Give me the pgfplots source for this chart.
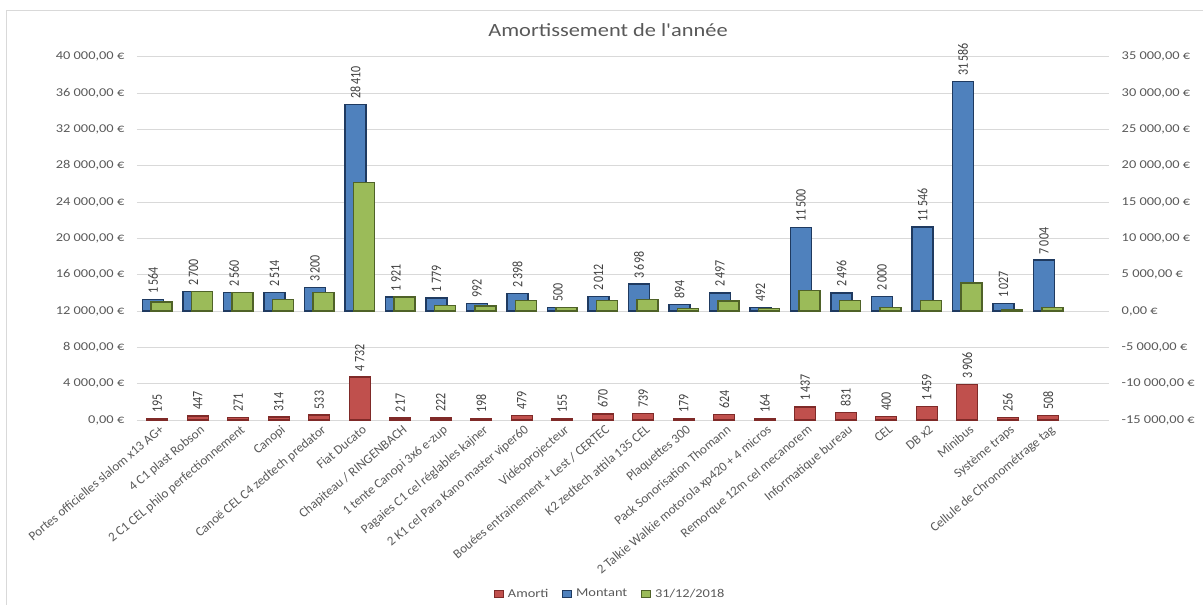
\documentclass[border=0pt]{standalone}
\usepackage{fontspec}
\setmainfont{Carlito}
\newfontfamily\wide{Carlito}[FakeStretch=1.2]
\usepackage{pgfplots}
\usepackage{pgfplotstable}
\pgfplotsset{compat=1.18}
\definecolor{amR}{HTML}{C0504D}
\definecolor{amRd}{HTML}{7F2A28}
\definecolor{mtB}{HTML}{4F81BD}
\definecolor{mtBd}{HTML}{1F3A60}
\definecolor{fnG}{HTML}{9BBB59}
\definecolor{fnGd}{HTML}{4F6228}
\definecolor{gridc}{HTML}{D9D9D9}
\definecolor{txt}{HTML}{595959}
\definecolor{lbl}{HTML}{404040}

\pgfplotstableread{
x amorti montant fin
0 195 1564 1240
1 447 2700 2700
2 271 2560 2560
3 314 2514 1600
4 533 3200 2520
5 4732 28410 17680
6 217 1921 1921
7 222 1779 800
8 198 992 690
9 479 2398 1470
10 155 500 500
11 670 2012 1470
12 739 3698 1600
13 179 894 350
14 624 2497 1380
15 164 492 300
16 1437 11500 2840
17 831 2496 1470
18 400 2000 450
19 1459 11546 1470
20 3906 31586 3850
21 256 1027 200
22 508 7004 500
}\data

\pgfplotsset{
  common/.style={
    at={(102.75pt,138pt)}, anchor=south west,
    scale only axis, width=729pt, height=272.5pt,
    xmin=-0.5, xmax=23.5,
    ybar, bar width=0.52,
    /pgf/number format/assume math mode=true,
    axis line style={draw=none},
    major tick length=0pt,
    tick label style={font=\wide\fontsize{9}{10}\selectfont, text=txt},
    scaled y ticks=false,
    clip=false,
  },
  lab/.style={
    nodes near coords={\pgfmathprintnumber[fixed,precision=0,1000 sep={\,}]{\pgfplotspointmeta}},
    every node near coord/.append style={xscale=1.2, rotate=90, anchor=west, inner xsep=4pt,
      font=\fontsize{9}{10}\selectfont, text=lbl},
  },
}

\begin{document}
\begin{tikzpicture}
\useasboundingbox (0,0) rectangle (902.25pt,453pt);
\draw[gridc, line width=0.75pt] (5pt,-10pt) rectangle (912pt,445pt);
\begin{axis}[common,
  ymin=0, ymax=40000, ytick={0,4000,...,40000},
  ymajorgrids, grid style={gridc, line width=0.75pt},
  yticklabel={\pgfmathprintnumber[fixed,fixed zerofill,precision=2,use comma,1000 sep={\ }]{\tick}\ €},
  yticklabel style={anchor=east, xshift=-6pt},
  xtick={0,...,22},
  xticklabels={{Portes officielles slalom x13 AG+},{4 C1 plast Robson},{2 C1 CEL philo perfectionnement},{Canopi},{Canoë CEL C4 zedtech predator},{Fiat Ducato},{Chapiteau / RINGENBACH},{1 tente Canopi 3x6 e-zup},{Pagaies C1 cel réglables kajner},{2 K1 cel Para Kano master viper60},{Vidéoprojecteur},{Bouées entrainement + Lest / CERTEC},{K2 zedtech attila 135 CEL},{Plaquettes 300},{Pack Sonorisation Thomann},{2 Talkie Walkie motorola xp420 + 4 micros},{Remorque 12m  cel mecanorem},{Informatique bureau},{CEL},{DB x2},{Minibus},{Système traps},{Cellule de Chronométrage tag}},
  xticklabel style={font=\fontsize{9.8}{11}\selectfont, text=txt, rotate=40, anchor=north east, inner sep=1pt, yshift=-2pt},
  title={Amortissement de l'année},
  every axis title/.style={at={(0.4846,1.0735)}, anchor=center, font=\wide\fontsize{14}{16}\selectfont, text=txt},
]
\addplot[fill=amR, draw=amRd, line width=1pt, bar shift=0pt, lab] table[x=x,y=amorti]{\data};
\end{axis}
\begin{axis}[common,
  ymin=-15000, ymax=35000, ytick={-15000,-10000,...,35000},
  xtick=\empty,
  yticklabel pos=right,
  yticklabel={\pgfmathprintnumber[fixed,fixed zerofill,precision=2,use comma,1000 sep={\ }]{\tick}\ €},
  yticklabel style={anchor=west, xshift=6pt},
  legend image code/.code={\draw[#1, line width=0.8pt] (0pt,-2.4pt) rectangle (7pt,2.4pt);},
  legend columns=3,
  legend style={at={(0.487,-0.479)}, anchor=center, draw=none, fill=none,
    font=\wide\fontsize{9}{10}\selectfont, text=txt,
    /tikz/every even column/.append style={column sep=8pt},
    /tikz/every odd column/.append style={column sep=1pt}},
]
\addlegendimage{fill=amR, draw=amRd}
\addlegendentry{Amorti}
\addplot[fill=mtB, draw=mtBd, line width=1pt, bar shift=0pt, lab] table[x expr=\thisrow{x}-0.104, y=montant]{\data};
\addlegendentry{Montant}
\addplot[fill=fnG, draw=fnGd, line width=1pt, bar shift=0pt] table[x expr=\thisrow{x}+0.104, y=fin]{\data};
\addlegendentry{31/12/2018}
\end{axis}
\end{tikzpicture}
\end{document}
